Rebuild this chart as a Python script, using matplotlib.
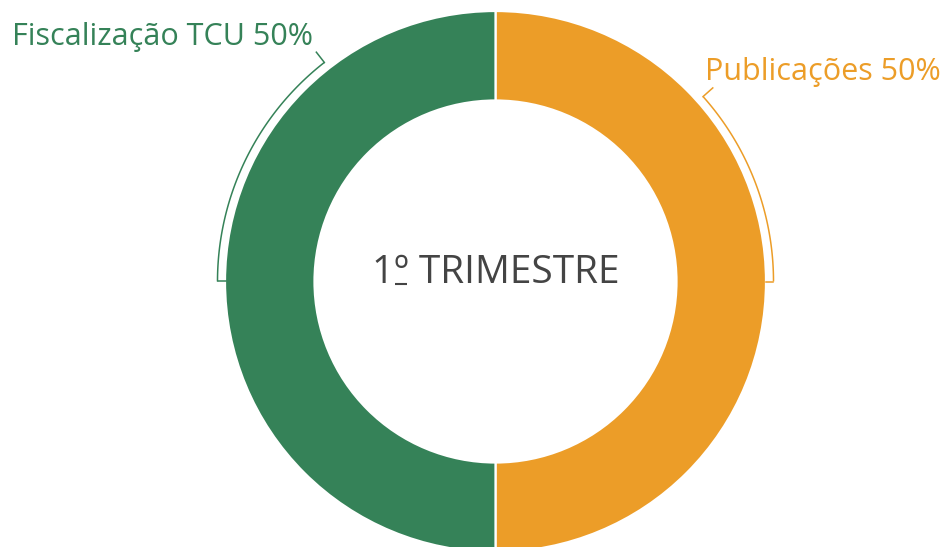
import numpy as np
import matplotlib
matplotlib.use("Agg")
from matplotlib import pyplot as plt

# slice data
labels = ["Publicações", "Fiscalização TCU"]
values = [50, 50]
colors = ["#EC9D28", "#358258"]
center_title = "1º TRIMESTRE"

W, H = 947, 547
cx, cy = 495.5, H - 281.5
r_out, r_in = 270.5, 181
r_br = 278

fig = plt.figure(figsize=(W / 100, H / 100), dpi=100)
ax = fig.add_axes([0, 0, 1, 1])

ax.pie(values, colors=colors, startangle=90, counterclock=False,
       center=(cx, cy), radius=r_out, frame=True,
       wedgeprops=dict(width=r_out - r_in, edgecolor="white", linewidth=1.6))
ax.set_xlim(0, W)
ax.set_ylim(0, H)
ax.set_aspect("equal")
ax.axis("off")


# bracket arcs beside each slice
def bracket(a0, a1, color):
    t = np.radians(np.linspace(a0, a1, 100))
    ax.plot(cx + r_br * np.cos(t), cy + r_br * np.sin(t), color=color, lw=1.1,
            solid_capstyle="butt")
    # outward tick at top end
    ta = np.radians(a1)
    ax.plot([cx + r_br * np.cos(ta), cx + (r_br + 13) * np.cos(ta)],
            [cy + r_br * np.sin(ta), cy + (r_br + 13) * np.sin(ta)], color=color, lw=1.1)
    # inward tick at bottom end
    tb = np.radians(a0)
    ax.plot([cx + r_br * np.cos(tb), cx + (r_br - 8) * np.cos(tb)],
            [cy + r_br * np.sin(tb), cy + (r_br - 8) * np.sin(tb)], color=color, lw=1.1)


bracket(0, 41.7, colors[0])
bracket(180, 128, colors[1])

font = "Open Sans"
ax.text(12, H - 45, f"{labels[1]} {values[1]}%", color=colors[1], fontsize=22,
        family=font, ha="left", va="baseline")
ax.text(705, H - 80, f"{labels[0]} {values[0]}%", color=colors[0], fontsize=22,
        family=font, ha="left", va="baseline")
title = ax.text(cx, H - 283, center_title, color="#444444", fontsize=28,
                family=font, ha="center", va="baseline")

# underline the ordinal sign, like the reference font does
fig.canvas.draw()
rend = fig.canvas.get_renderer()
x0 = title.get_window_extent(rend).x0


def text_w(s):
    t = ax.text(0, 0, s, fontsize=28, family=font)
    w = t.get_window_extent(rend).width
    t.remove()
    return w


w1 = text_w("1")
w2 = text_w("1º")
ax.plot([x0 + w1 + 1, x0 + w2 - 2], [H - 283.5, H - 283.5], color="#444444",
        lw=1.5, solid_capstyle="butt")

fig.savefig("out.png", dpi=100)
